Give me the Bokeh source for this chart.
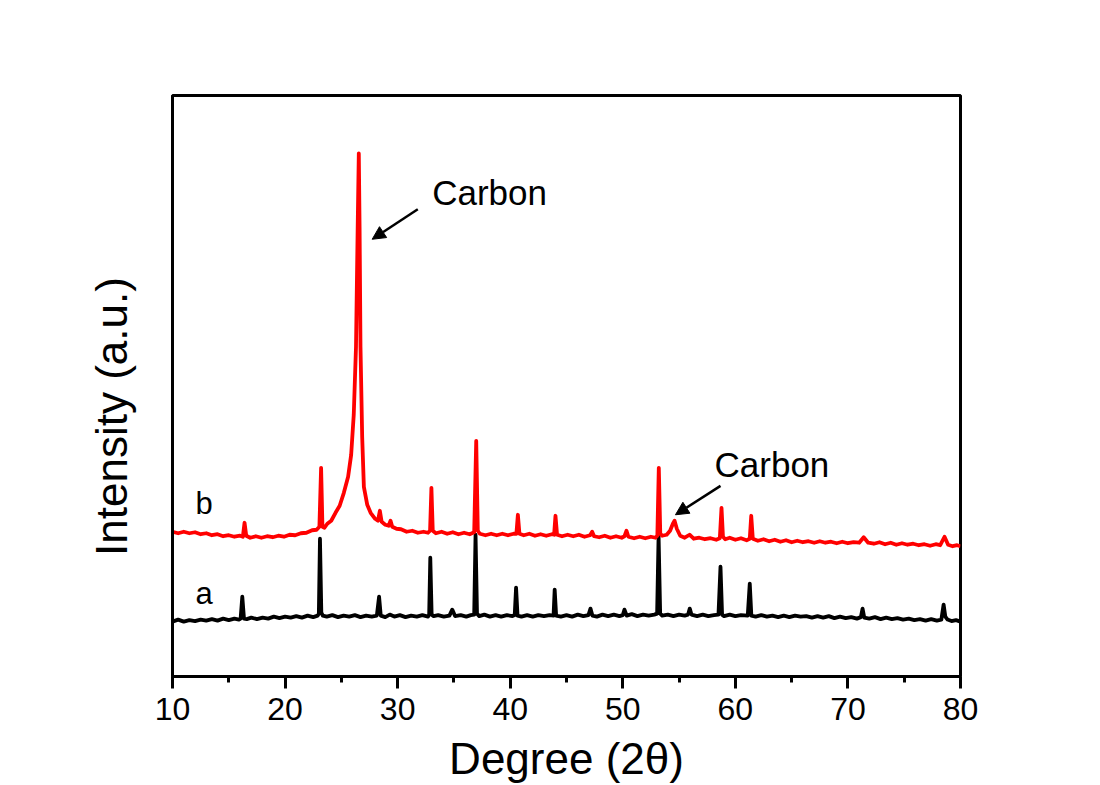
from bokeh.plotting import figure
from bokeh.models import Label, Arrow, NormalHead, FixedTicker
from bokeh.embed import file_html
from bokeh.resources import INLINE

# ---- data (2theta in degrees, intensity in arbitrary units) ----
two_theta_a = [10.0, 10.5, 11.0, 11.5, 12.0, 12.5, 13.0, 13.5, 14.0, 14.5, 15.0, 15.5, 15.9,
               16.05, 16.2, 16.35, 16.6, 17.0, 17.5, 18.0, 18.5, 19.0, 19.5, 20.0, 20.5, 21.0,
               21.5, 22.0, 22.5, 22.9, 23.0, 23.1, 23.22, 23.35, 23.7, 24.2, 24.7, 25.2, 25.7,
               26.2, 26.7, 27.2, 27.7, 28.15, 28.35, 28.5, 28.9, 29.3, 29.7, 30.2, 30.7, 31.2,
               31.7, 32.2, 32.7, 32.8, 32.9, 33.02, 33.2, 33.6, 34.1, 34.6, 34.85, 35.1, 35.6,
               36.1, 36.5, 36.8, 36.92, 37.05, 37.25, 37.7, 38.2, 38.7, 39.2, 39.7, 40.2, 40.4,
               40.52, 40.65, 41.0, 41.5, 42.0, 42.5, 43.0, 43.5, 43.85, 43.95, 44.08, 44.5,
               45.0, 45.5, 46.0, 46.5, 46.95, 47.13, 47.3, 47.7, 48.2, 48.7, 49.2, 49.7, 50.0,
               50.15, 50.35, 50.8, 51.3, 51.8, 52.3, 52.8, 53.05, 53.18, 53.32, 53.5, 54.0,
               54.5, 55.0, 55.5, 55.8, 55.95, 56.1, 56.6, 57.1, 57.6, 58.1, 58.5, 58.68, 58.82,
               59.0, 59.5, 60.0, 60.5, 61.1, 61.28, 61.42, 61.8, 62.3, 62.8, 63.3, 63.8, 64.3,
               64.8, 65.3, 65.8, 66.3, 66.8, 67.3, 67.8, 68.3, 68.8, 69.3, 69.8, 70.3, 70.8,
               71.15, 71.3, 71.45, 71.9, 72.4, 72.9, 73.4, 73.9, 74.4, 74.9, 75.4, 75.9, 76.4,
               76.9, 77.4, 77.9, 78.3, 78.5, 78.65, 78.85, 79.2, 79.6, 80.0]
intensity_a = [55, 57, 55, 56.5, 55.5, 57, 56, 57.5, 56, 58, 56.5, 58, 57,
               58, 80, 58, 57.5, 59, 57.5, 59, 58, 60, 58.5, 60, 59, 60.5,
               59, 61, 59.5, 61, 63, 138, 64, 61, 60, 61.5, 59.5, 61, 60,
               61.5, 59.5, 61, 60, 61, 80, 61, 59.5, 62, 60, 61.5, 59.5, 61,
               60, 61.5, 60, 62, 119, 62, 60.5, 61.5, 60, 61, 67, 60.5, 61.5,
               60, 61.5, 62, 142, 63, 60.5, 62, 60, 61.5, 60, 61.5, 60.5, 61.5,
               89, 61, 60, 61.5, 60, 61.5, 60.5, 61.5, 61, 87, 61, 60,
               61.5, 60, 62, 60.5, 61.5, 68, 61, 60, 62, 60.5, 62, 60.5, 61.5,
               67, 61, 62.5, 60.5, 62, 61, 62, 63, 141, 63, 61, 62,
               60.5, 62, 61, 62, 68, 62, 60.5, 62, 60.5, 61.5, 62, 110, 62,
               60.5, 62, 60.5, 61.5, 61, 93, 61, 60, 61.5, 60, 61, 59.5, 61,
               59.5, 61, 60, 60.5, 59, 60.5, 59, 60.5, 58.5, 60, 58.5, 59.5, 58,
               59.5, 68, 59, 58, 59.5, 57.5, 59, 57.5, 58.5, 57, 58, 56.5, 57.5,
               56, 57.5, 56, 57, 72, 60, 57, 55.5, 56.5, 55]

two_theta_b = [10.0, 10.5, 11.0, 11.5, 12.0, 12.5, 13.0, 13.5, 14.0, 14.5, 15.0, 15.5, 16.0, 16.25,
               16.4, 16.55, 16.9, 17.4, 17.9, 18.4, 18.9, 19.4, 19.9, 20.4, 20.9, 21.4, 21.9,
               22.4, 22.8, 23.05, 23.2, 23.32, 23.5, 23.75, 24.1, 24.48, 24.85, 25.22, 25.6,
               25.87, 26.1, 26.3, 26.45, 26.55, 26.62, 26.7, 26.85, 27.0, 27.3, 27.6, 28.0,
               28.25, 28.42, 28.58, 28.9, 29.2, 29.37, 29.52, 29.9, 30.3, 30.8, 31.3, 31.8,
               32.3, 32.7, 32.88, 33.0, 33.12, 33.4, 33.9, 34.4, 34.9, 35.4, 35.9, 36.4, 36.8,
               36.98, 37.12, 37.3, 37.8, 38.3, 38.8, 39.3, 39.8, 40.3, 40.55, 40.68, 40.82,
               41.2, 41.7, 42.2, 42.7, 43.2, 43.7, 43.9, 44.02, 44.16, 44.6, 45.1, 45.6, 46.1,
               46.6, 47.1, 47.28, 47.45, 47.9, 48.4, 48.9, 49.4, 49.9, 50.15, 50.33, 50.5,
               51.0, 51.5, 52.0, 52.5, 52.9, 53.07, 53.2, 53.33, 53.5, 53.9, 54.2, 54.45, 54.6,
               54.8, 55.1, 55.5, 55.93, 56.3, 56.8, 57.3, 57.8, 58.3, 58.62, 58.77, 58.9, 59.1,
               59.5, 60.0, 60.5, 61.0, 61.28, 61.41, 61.55, 62.0, 62.5, 63.0, 63.5, 64.0, 64.5,
               65.0, 65.5, 66.0, 66.5, 67.0, 67.5, 68.0, 68.5, 69.0, 69.5, 70.0, 70.5, 71.0,
               71.4, 71.8, 72.3, 72.8, 73.3, 73.8, 74.3, 74.8, 75.3, 75.8, 76.3, 76.8, 77.3,
               77.8, 78.2, 78.58, 78.9, 79.3, 79.7, 80.0]
intensity_b = [145, 143.5, 145, 143.5, 144.5, 142.5, 143.5, 141.5, 142.5, 140.5, 141.5, 140, 141, 140,
               154, 141, 139, 140.5, 139, 140.5, 139.5, 141, 140, 142, 141.5, 143.5, 144,
               146.5, 147, 150, 209, 150, 149, 153, 156, 164, 171, 184, 200,
               222, 262, 330, 450, 524, 450, 330, 240, 190, 172, 164, 158,
               156, 166, 155, 152, 151, 156, 150, 148, 147.5, 145, 146, 144,
               145, 144, 146, 189, 146, 143.5, 145, 143, 144.5, 142.5, 144, 142.5, 144.5,
               236, 146, 143, 141.5, 143, 141.5, 143, 141.5, 143, 143, 162, 143,
               141.5, 143, 141, 142.5, 141, 142.5, 142, 161, 142, 140.5, 142, 140.5, 142,
               140, 141.5, 145, 140.5, 139.5, 141, 139, 140.5, 139, 140.5, 146, 140,
               138.5, 140, 138.5, 140, 139, 141, 209, 143, 141, 142, 146, 153, 156,
               148, 141, 139, 142, 138, 139, 137.5, 138.5, 137, 138.5, 169, 140, 137.5,
               139, 137, 138.5, 136.5, 138, 161, 138, 136, 137.5, 135.5, 137, 135, 136.5,
               134.5, 136, 134.5, 135.5, 134, 135.5, 134, 135, 133.5, 135, 133.5, 134.5, 134,
               139.5, 134, 133, 134.5, 132.5, 134, 132, 133.5, 132, 133, 131.5, 132.5, 131,
               132.5, 131.5, 140, 132, 130.5, 131.5, 130.5]

x_ticks = [10, 20, 30, 40, 50, 60, 70, 80]
series_names = ["a", "b"]
annotation_text = ["Carbon", "Carbon"]

FONT = "Liberation Sans"

p = figure(width=1100, height=785, output_backend="svg", toolbar_location=None,
           x_range=(10, 80), y_range=(0, 582),
           min_border_left=172, min_border_right=140, min_border_top=95, min_border_bottom=108)
p.background_fill_color = "white"
p.border_fill_color = "white"
p.grid.visible = False
p.outline_line_color = "black"
p.outline_line_width = 3

# x axis
xa = p.xaxis[0]
xa.ticker = FixedTicker(ticks=x_ticks, minor_ticks=[15, 25, 35, 45, 55, 65, 75])
xa.axis_line_width = 3
xa.major_tick_line_width = 3
xa.minor_tick_line_width = 3
xa.major_tick_out = 12
xa.major_tick_in = 0
xa.minor_tick_out = 6
xa.minor_tick_in = 0
xa.major_label_text_font = FONT
xa.major_label_text_font_size = "32px"
xa.major_label_text_color = "black"
xa.major_label_standoff = 9
xa.axis_label = "Degree (2θ)"
xa.axis_label_text_font = FONT
xa.axis_label_text_font_size = "44px"
xa.axis_label_text_font_style = "normal"
xa.axis_label_text_color = "black"
xa.axis_label_standoff = 11

# y axis: no ticks; label shifted down with trailing no-break spaces
ya = p.yaxis[0]
ya.ticker = FixedTicker(ticks=[])
ya.axis_line_width = 3
ya.major_tick_out = 0
ya.major_tick_in = 0
ya.minor_tick_out = 0
ya.minor_tick_in = 0
ya.major_label_text_font_size = "0px"
ya.axis_label = "Intensity (a.u.)" + "\u00a0" * 5
ya.axis_label_text_font = FONT
ya.axis_label_text_font_size = "44px"
ya.axis_label_text_font_style = "normal"
ya.axis_label_text_color = "black"
ya.axis_label_standoff = 37

p.line(two_theta_a, intensity_a, line_color="black", line_width=3.8, line_join="round")
p.line(two_theta_b, intensity_b, line_color="#ff0000", line_width=3.8, line_join="round")

# series labels
p.add_layout(Label(x=12.04, y=83, text=series_names[0], text_font=FONT,
                   text_font_size="31px", text_color="black", text_baseline="alphabetic"))
p.add_layout(Label(x=12.04, y=173, text=series_names[1], text_font=FONT,
                   text_font_size="31px", text_color="black", text_baseline="alphabetic"))

# Carbon annotations
p.add_layout(Label(x=33.07, y=485, text=annotation_text[0], text_font=FONT,
                   text_font_size="35px", text_color="black", text_baseline="alphabetic"))
p.add_layout(Label(x=58.15, y=212, text=annotation_text[1], text_font=FONT,
                   text_font_size="35px", text_color="black", text_baseline="alphabetic"))

p.add_layout(Arrow(end=NormalHead(size=13, fill_color="black", line_color="black", line_width=1),
                   x_start=31.79, y_start=468, x_end=27.74, y_end=438,
                   line_color="black", line_width=2.5))
p.add_layout(Arrow(end=NormalHead(size=13, fill_color="black", line_color="black", line_width=1),
                   x_start=58.68, y_start=191, x_end=54.68, y_end=162,
                   line_color="black", line_width=2.5))

open("out.html", "w").write(file_html(p, INLINE))
